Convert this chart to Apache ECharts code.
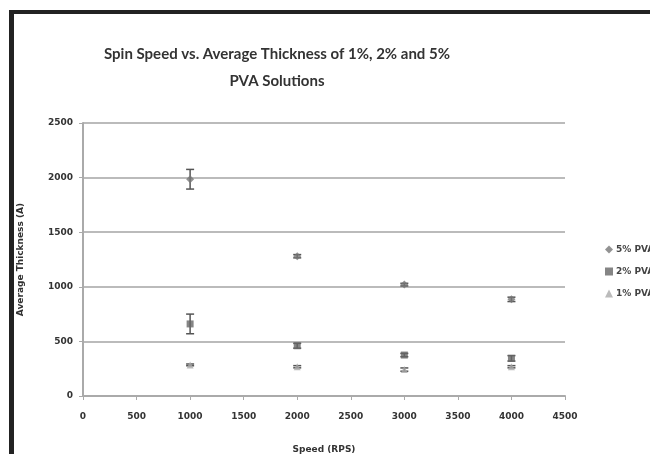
<!DOCTYPE html>
<html>
<head>
<meta charset="utf-8">
<script src="https://cdn.jsdelivr.net/npm/echarts@6/dist/echarts.min.js"></script>
<style>
  html, body { margin: 0; padding: 0; background: #fff; }
  #chart { width: 650px; height: 454px; }
</style>
</head>
<body>
<div id="chart"></div>
<script>
const speeds = [1000, 2000, 3000, 4000];
const pva5 = [1985, 1280, 1020, 885];
const pva5Err = [90, 15, 12, 20];
const pva2 = [660, 460, 375, 345];
const pva2Err = [90, 22, 15, 25];
const pva1 = [285, 268, 242, 268];
const pva1Err = [8, 10, 15, 10];
const seriesNames = ['5% PVA', '2% PVA', '1% PVA'];

const chart = echarts.init(document.getElementById('chart'));

function pairs(vals) {
  return speeds.map((s, i) => [s, vals[i]]);
}
function errData(vals, errs) {
  return speeds.map((s, i) => [s, vals[i] - errs[i], vals[i] + errs[i]]);
}

function renderErr(params, api) {
  const x = api.value(0);
  const lo = api.coord([x, api.value(1)]);
  const hi = api.coord([x, api.value(2)]);
  const w = 4;
  const style = { stroke: '#555', lineWidth: 1.5 };
  return {
    type: 'group',
    children: [
      { type: 'line', shape: { x1: lo[0], y1: lo[1], x2: hi[0], y2: hi[1] }, style },
      { type: 'line', shape: { x1: lo[0] - w, y1: lo[1], x2: lo[0] + w, y2: lo[1] }, style },
      { type: 'line', shape: { x1: hi[0] - w, y1: hi[1], x2: hi[0] + w, y2: hi[1] }, style }
    ]
  };
}

const axisText = { color: '#333', fontSize: 9, fontWeight: 'bold', fontFamily: 'DejaVu Sans' };
const plain = v => String(v);

const option = {
  backgroundColor: '#ffffff',
  animation: false,
  title: {
    text: 'Spin Speed vs. Average Thickness of 1%, 2% and 5%\nPVA Solutions',
    left: 272,
    textAlign: 'center',
    top: 36,
    textStyle: { fontFamily: 'Lato', fontWeight: 'bold', fontSize: 15, color: '#333', lineHeight: 27 }
  },
  legend: {
    orient: 'vertical',
    left: 600,
    top: 240,
    itemGap: 13,
    itemWidth: 8,
    itemHeight: 8,
    data: [
      { name: '5% PVA', icon: 'diamond' },
      { name: '2% PVA', icon: 'rect' },
      { name: '1% PVA', icon: 'triangle' }
    ],
    textStyle: { fontSize: 9, fontWeight: 'bold', color: '#444', fontFamily: 'DejaVu Sans', padding: [0, 0, 0, -2] }
  },
  grid: { left: 83, right: 85, top: 123, bottom: 58, containLabel: false, outerBoundsMode: 'none' },
  xAxis: {
    type: 'value',
    min: 0,
    max: 4500,
    interval: 500,
    name: 'Speed (RPS)',
    nameLocation: 'middle',
    nameGap: 49,
    nameTextStyle: axisText,
    axisLine: { lineStyle: { color: '#aaa', width: 2 } },
    axisTick: { show: true, inside: false, length: 4, lineStyle: { color: '#aaa' } },
    axisLabel: Object.assign({ margin: 16, formatter: plain }, axisText),
    splitLine: { show: false }
  },
  yAxis: {
    type: 'value',
    min: 0,
    max: 2500,
    interval: 500,
    name: 'Average Thickness (A)',
    nameLocation: 'middle',
    nameGap: 58,
    nameTextStyle: axisText,
    axisLine: { show: true, lineStyle: { color: '#aaa', width: 2 } },
    axisTick: { show: true, length: 4, lineStyle: { color: '#aaa' } },
    axisLabel: Object.assign({ margin: 10, formatter: plain }, axisText),
    splitLine: { lineStyle: { color: '#bbb', width: 2 } }
  },
  graphic: [
    { type: 'rect', shape: { x: 9, y: 10, width: 641, height: 4 }, style: { fill: '#222' } },
    { type: 'rect', shape: { x: 9, y: 10, width: 5, height: 444 }, style: { fill: '#222' } }
  ],
  series: [
    { type: 'custom', renderItem: renderErr, data: errData(pva5, pva5Err), z: 1, silent: true },
    { type: 'custom', renderItem: renderErr, data: errData(pva2, pva2Err), z: 1, silent: true },
    { type: 'custom', renderItem: renderErr, data: errData(pva1, pva1Err), z: 1, silent: true },
    { name: seriesNames[0], type: 'scatter', symbol: 'diamond', symbolSize: 8, itemStyle: { color: '#777' }, data: pairs(pva5), z: 3 },
    { name: seriesNames[1], type: 'scatter', symbol: 'rect', symbolSize: 7, itemStyle: { color: '#666' }, data: pairs(pva2), z: 3 },
    { name: seriesNames[2], type: 'scatter', symbol: 'triangle', symbolSize: 7, itemStyle: { color: '#aaa' }, data: pairs(pva1), z: 3 }
  ]
};

chart.setOption(option);
</script>
</body>
</html>
